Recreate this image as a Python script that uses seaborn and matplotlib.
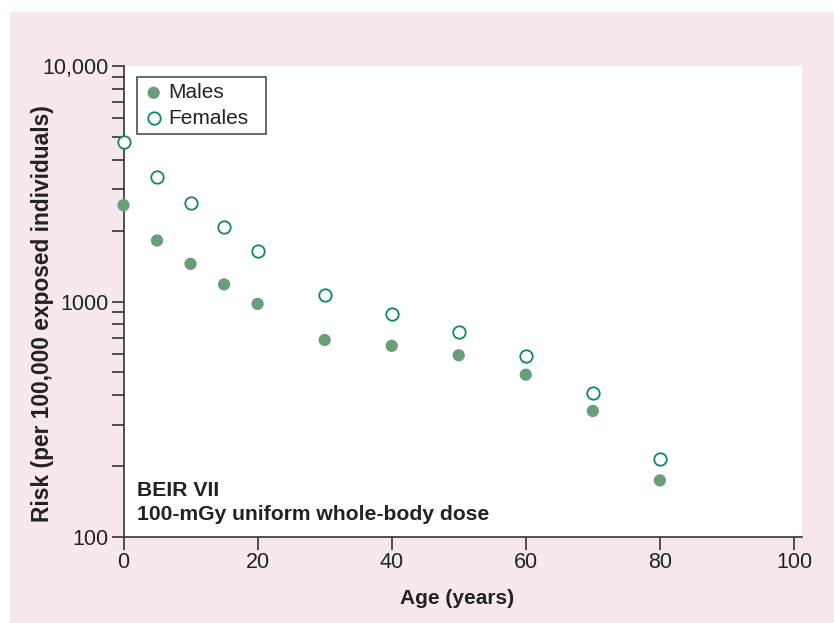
import numpy as np
import pandas as pd
import seaborn as sns
import matplotlib
matplotlib.use("Agg")
import matplotlib.pyplot as plt
from matplotlib.patches import Rectangle
from matplotlib.ticker import FixedLocator, FixedFormatter, LogLocator, NullFormatter

ages = [0, 5, 10, 15, 20, 30, 40, 50, 60, 70, 80]
males = [2563, 1816, 1445, 1182, 977, 686, 648, 591, 489, 343, 174]
females = [4777, 3377, 2611, 2064, 1646, 1065, 886, 740, 586, 409, 214]
ytick_vals = [100, 1000, 10000]
ytick_labels = ["100", "1000", "10,000"]
xtick_vals = [0, 20, 40, 60, 80, 100]

sns.set_theme(style="ticks")
plt.rcParams['font.family'] = ['Liberation Sans', 'DejaVu Sans']

df_m = pd.DataFrame({"Age": ages, "Risk": males})
df_f = pd.DataFrame({"Age": ages, "Risk": females})

W, H = 834, 623
L, R, T, B = 123.5, 802, 66, 537
fig = plt.figure(figsize=(W/100, H/100), dpi=100)
fig.patch.set_facecolor("white")
pink = "#f7e8ee"
bg = Rectangle((10/W, 0), 1 - 10/W, 1 - 12/H, transform=fig.transFigure,
               facecolor=pink, edgecolor="none", zorder=-10)
fig.patches.append(bg)
ax = fig.add_axes([L/W, 1 - B/H, (R - L)/W, (B - T)/H])
ax.set_zorder(1)
ax.set_facecolor("white")

fill_c = "#6a9e7b"
edge_c = "#0c8a5c"
sns.scatterplot(data=df_m, x="Age", y="Risk", ax=ax, s=78, color=fill_c,
                edgecolor="none", label="Males", zorder=3, clip_on=False)
sns.scatterplot(data=df_f, x="Age", y="Risk", ax=ax, s=80, facecolor="white",
                edgecolor=edge_c, linewidth=1.3, label="Females", zorder=3, clip_on=False)

ax.set_yscale("log")
ax.set_xlim(0, 101.2)
ax.set_ylim(100, 10000)
ax.yaxis.set_major_locator(FixedLocator(ytick_vals))
ax.yaxis.set_major_formatter(FixedFormatter(ytick_labels))
ax.yaxis.set_minor_locator(LogLocator(base=10, subs=np.arange(2, 10)))
ax.yaxis.set_minor_formatter(NullFormatter())
ax.set_xticks(xtick_vals)

spine_c = "#333333"
for s in ["top", "right"]:
    ax.spines[s].set_visible(False)
for s in ["left", "bottom"]:
    ax.spines[s].set_color(spine_c)
    ax.spines[s].set_linewidth(1.2)
ax.tick_params(axis="both", which="major", direction="out", length=9, width=1.2,
               color=spine_c, labelsize=15.5, labelcolor="#222222", pad=2)
ax.tick_params(axis="y", which="minor", direction="out", length=9, width=1.2, color=spine_c)

ax.set_xlabel("Age (years)", fontsize=15, fontweight="bold", color="#222222")
ax.set_ylabel("Risk (per 100,000 exposed individuals)", fontsize=16.4, fontweight="bold",
              color="#222222")
aw, ah = R - L, B - T
ax.xaxis.set_label_coords((457 - L)/aw, -(599 - B)/ah)
ax.yaxis.set_label_coords((43 - L)/aw, (B - 314)/ah)
ax.xaxis.label.set_va("center")
ax.yaxis.label.set_va("center")

ax.text(137/W, 1 - 496/H, "BEIR VII", transform=fig.transFigure, fontsize=15.2,
        fontweight="bold", color="#222222", va="baseline", ha="left")
ax.text(137/W, 1 - 520/H, "100-mGy uniform whole-body dose", transform=fig.transFigure,
        fontsize=15.2, fontweight="bold", color="#222222", va="baseline", ha="left")

leg = ax.legend(loc="upper left",
                bbox_to_anchor=((137 - L)/aw, 1 - (77 - T)/ah - 0.01, (266 - 137)/aw, 0.01),
                mode="expand", frameon=True, fancybox=False, fontsize=15,
                handletextpad=0.2, borderpad=0.3, labelspacing=0.3,
                handlelength=1.0, borderaxespad=0)
leg.get_frame().set_edgecolor("#222222")
leg.get_frame().set_linewidth(1.2)
for t in leg.get_texts():
    t.set_color("#222222")

fig.savefig("out.png", dpi=100, facecolor=fig.get_facecolor())
